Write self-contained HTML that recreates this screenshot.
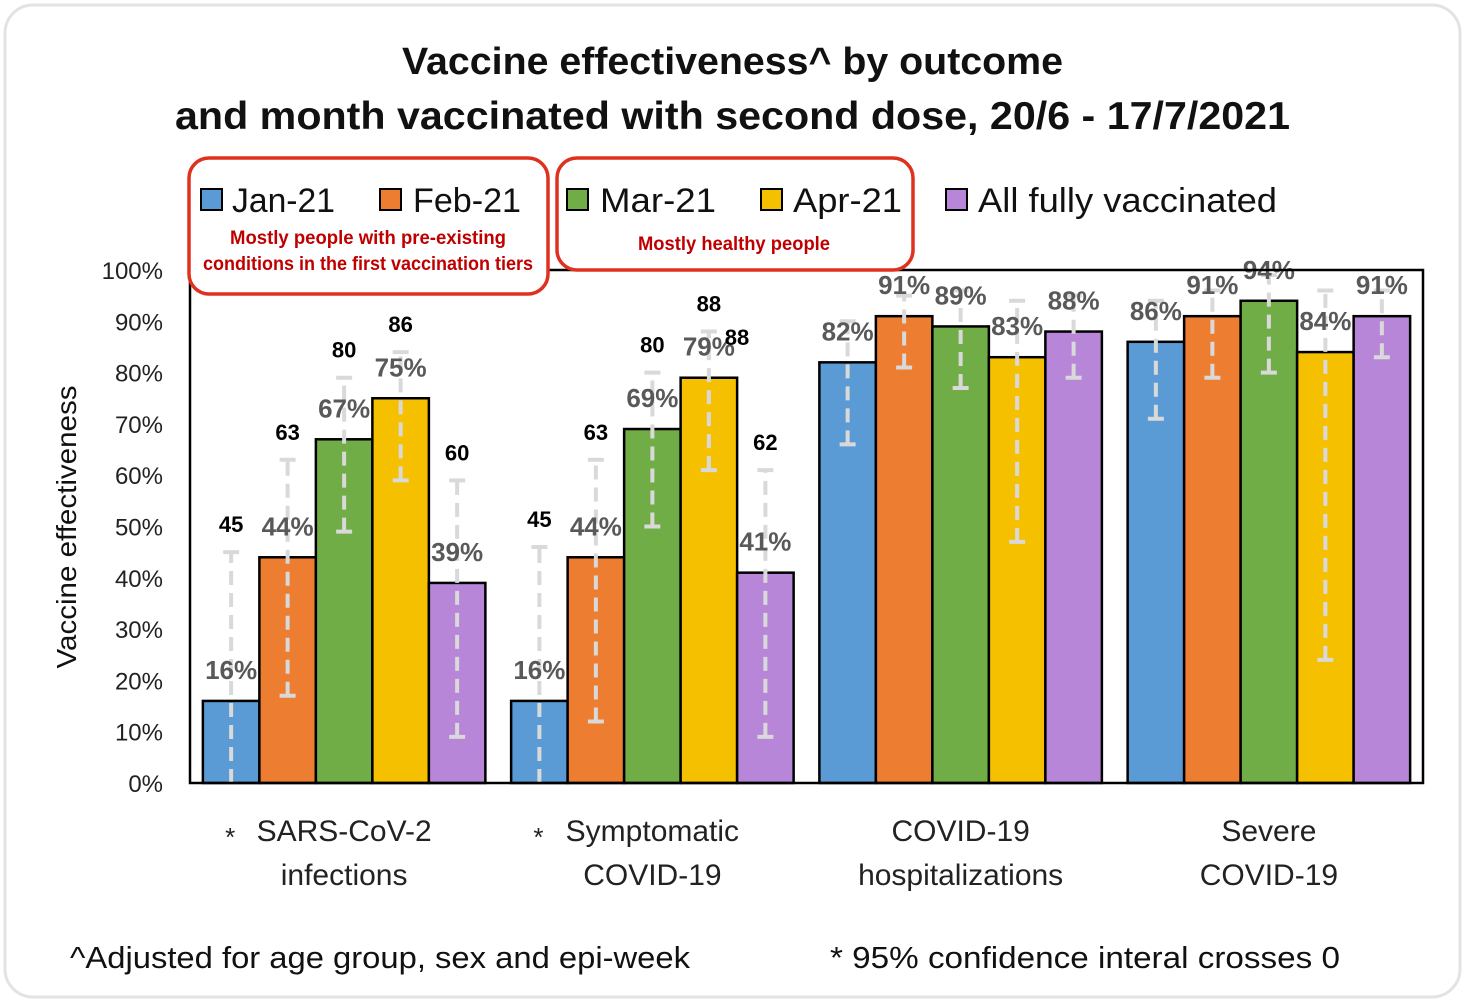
<!DOCTYPE html>
<html><head><meta charset="utf-8"><style>
body{margin:0;background:#fff;}
svg{display:block;font-family:"Liberation Sans",sans-serif;}
</style></head><body>
<svg id="chart" width="1468" height="1002" viewBox="0 0 1468 1002">
<rect x="5" y="5" width="1455" height="992" rx="28" fill="#fff" stroke="#e3e3e3" stroke-width="3"/>
<text x="402" y="74" textLength="661" lengthAdjust="spacingAndGlyphs" font-size="38" font-weight="bold" fill="#111">Vaccine effectiveness^ by outcome</text>
<text x="175" y="129" textLength="1115" lengthAdjust="spacingAndGlyphs" font-size="39" font-weight="bold" fill="#111">and month vaccinated with second dose, 20/6 - 17/7/2021</text>
<g id="axes"></g>
<g id="bars"></g>
<g id="errs"></g>
<g id="labels"></g>
<rect x="190" y="270" width="1233" height="513" fill="none" stroke="#000" stroke-width="2.5"/>
<g>
<rect x="189" y="158" width="359" height="136" rx="20" fill="#fff" stroke="#e0301e" stroke-width="3.5"/>
<rect x="557" y="158" width="356" height="112" rx="20" fill="#fff" stroke="#e0301e" stroke-width="3.5"/>
<g id="legend-items"></g>
<text x="368" y="244" text-anchor="middle" font-size="19" font-weight="bold" fill="#c00000" textLength="276" lengthAdjust="spacingAndGlyphs">Mostly people with pre-existing</text>
<text x="368" y="270" text-anchor="middle" font-size="19" font-weight="bold" fill="#c00000" textLength="330" lengthAdjust="spacingAndGlyphs">conditions in the first vaccination tiers</text>
<text x="734" y="250" text-anchor="middle" font-size="19" font-weight="bold" fill="#c00000" textLength="192" lengthAdjust="spacingAndGlyphs">Mostly healthy people</text>
</g>
<text transform="translate(76,527) rotate(-90)" text-anchor="middle" font-size="28" fill="#111" textLength="283" lengthAdjust="spacingAndGlyphs">Vaccine effectiveness</text>
<text x="70" y="968" font-size="31" fill="#111" textLength="620" lengthAdjust="spacingAndGlyphs">^Adjusted for age group, sex and epi-week</text>
<text x="830" y="968" font-size="31" fill="#111" textLength="510" lengthAdjust="spacingAndGlyphs">* 95% confidence interal  crosses 0</text>
</svg>
<script>
const categories=[["SARS-CoV-2","infections"],["Symptomatic","COVID-19"],["COVID-19","hospitalizations"],["Severe","COVID-19"]];
const starred=[true,true,false,false];
const seriesNames=["Jan-21","Feb-21","Mar-21","Apr-21","All fully vaccinated"];
const seriesColors=["#5b9bd5","#ed7d31","#70ad47","#f5c000","#b886d9"];
const jan=[16,16,82,86];
const feb=[44,44,91,91];
const mar=[67,69,89,94];
const apr=[75,79,83,84];
const allVac=[39,41,88,91];
const lowJan=[-5,-5,66,71];
const lowFeb=[17,12,81,79];
const lowMar=[49,50,77,80];
const lowApr=[59,61,47,24];
const lowAll=[9,9,79,83];
const upJan=[45,46,90,94];
const upFeb=[63,63,95,96];
const upMar=[79,80,96,99];
const upApr=[84,88,94,96];
const upAll=[59,61,95,96];
const upLabels=[["45","63","80","86","60"],["45","63","80","88","62"]];
const yTicks=[0,10,20,30,40,50,60,70,80,90,100];
const NS="http://www.w3.org/2000/svg";
const vals=[jan,feb,mar,apr,allVac],lows=[lowJan,lowFeb,lowMar,lowApr,lowAll],ups=[upJan,upFeb,upMar,upApr,upAll];
const X0=190,X1=1423,Y0=783,Y1=270;
const y=v=>Y0-(Math.max(v,0))/100*(Y0-Y1);
const gw=(X1-X0)/categories.length,bw=56.5,pad=(gw-bw*5)/2;
const bx=(g,s)=>X0+g*gw+pad+s*bw;
function mk(tag,attrs,parent,txt){const e=document.createElementNS(NS,tag);for(const k in attrs)e.setAttribute(k,attrs[k]);if(txt!==undefined)e.textContent=txt;document.getElementById(parent).appendChild(e);return e;}
yTicks.forEach(t=>{const e=mk('text',{x:163,y:y(t)+9,'text-anchor':'end','font-size':24,fill:'#222'},'axes',t+'%');

});
categories.forEach((c,g)=>{const cx=X0+g*gw+gw/2;
c.forEach((l,i)=>{const e=mk('text',{x:cx,y:841+i*44,'text-anchor':'middle','font-size':30,fill:'#222'},'axes',l);

});
if(starred[g]){const s=mk('text',{x:cx-114,y:846,'text-anchor':'middle','font-size':26,fill:'#222'},'axes','*');

}
for(let s=0;s<5;s++){const v=vals[s][g],x=bx(g,s),cxb=x+bw/2;
const r=mk('rect',{x:x,y:y(v),width:bw,height:Y0-y(v),fill:seriesColors[s],stroke:'#000','stroke-width':2.5},'bars');


const lo=Math.max(lows[s][g],0),hi=ups[s][g];
const ln=mk('line',{x1:cxb,x2:cxb,y1:y(lo),y2:y(hi),stroke:'#d9d9d9','stroke-width':4,'stroke-dasharray':'14 8'},'errs');


[hi].concat(lows[s][g]>0?[lo]:[]).forEach(vv=>{const cp=mk('line',{x1:cxb-8,x2:cxb+8,y1:y(vv),y2:y(vv),stroke:'#d9d9d9','stroke-width':4},'errs');

});
const t=mk('text',{x:cxb,y:y(v)-22,'text-anchor':'middle','font-size':26,'font-weight':'bold',fill:'#595959'},'labels',v+'%');


if(g<upLabels.length){const u=mk('text',{x:cxb,y:y(hi)-20,'text-anchor':'middle','font-size':22,'font-weight':'bold',fill:'#000'},'labels',upLabels[g][s]);

}
}});
const ex=mk('text',{x:737,y:345,'text-anchor':'middle','font-size':22,'font-weight':'bold',fill:'#000'},'labels','88');


const lx=[201,380,567,761,946],tx=[232,413,600,793,978];
const tl=[103,108,116,109,299];
seriesNames.forEach((n,i)=>{const r=mk('rect',{x:lx[i],y:189,width:21,height:21,fill:seriesColors[i],stroke:'#000','stroke-width':2},'legend-items');


const t=mk('text',{x:tx[i],y:212,'font-size':34,fill:'#111',textLength:tl[i],lengthAdjust:'spacingAndGlyphs'},'legend-items',n);

});
</script>
</body></html>
